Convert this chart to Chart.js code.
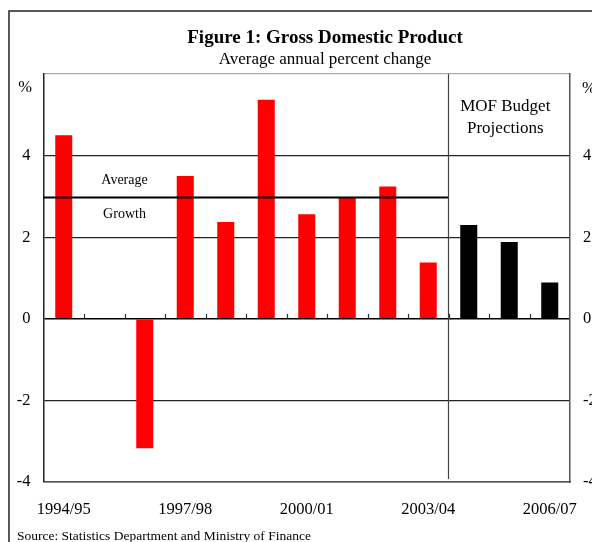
<!DOCTYPE html>
<html>
<head>
<meta charset="utf-8">
<script src="https://cdn.jsdelivr.net/npm/chart.js@4"></script>
<style>
  html, body { margin: 0; padding: 0; background: #fff; }
  #wrap { width: 592px; height: 542px; position: relative; }
</style>
</head>
<body>
<div id="wrap"><canvas id="gdp"></canvas></div>
<script>
const YEARS = ['1994/95', '1995/96', '1996/97', '1997/98', '1998/99', '1999/00', '2000/01',
               '2001/02', '2002/03', '2003/04', '2004/05', '2005/06', '2006/07'];
const GROWTH = [4.5, null, -3.17, 3.5, 2.37, 5.37, 2.56, 2.97, 3.24, 1.38, 2.3, 1.88, 0.89];
const PROJECTION_START = 10;          // first MOF budget projection year
const AVERAGE_GROWTH = 2.97;
const Y_TICKS = [-4, -2, 0, 2, 4, 6];

const SERIF = '"Liberation Serif", "Times New Roman", serif';

const extras = {
    id: 'extras',
    afterDatasetsDraw(chart) {
        const { ctx, chartArea: a, scales: { x, y } } = chart;
        const half = (x.getPixelForValue(1) - x.getPixelForValue(0)) / 2;
        const y0 = y.getPixelForValue(0);
        const divX = x.getPixelForValue(PROJECTION_START) - half;

        ctx.save();
        // category ticks on the zero line
        ctx.strokeStyle = '#333';
        ctx.lineWidth = 1.2;
        for (let i = 1; i < YEARS.length; i++) {
            const bx = Math.round(x.getPixelForValue(i) - half) + 0.5;
            ctx.beginPath();
            ctx.moveTo(bx, y0);
            ctx.lineTo(bx, y0 - 5);
            ctx.stroke();
        }
        // average growth line
        const ay = y.getPixelForValue(AVERAGE_GROWTH);
        ctx.strokeStyle = '#000';
        ctx.lineWidth = 2;
        ctx.beginPath();
        ctx.moveTo(a.left, ay);
        ctx.lineTo(divX, ay);
        ctx.stroke();
        // projections divider
        ctx.strokeStyle = '#444';
        ctx.lineWidth = 1.2;
        ctx.beginPath();
        ctx.moveTo(divX, a.top);
        ctx.lineTo(divX, a.bottom - 3);
        ctx.stroke();

        ctx.fillStyle = '#000';
        ctx.textAlign = 'center';
        ctx.textBaseline = 'alphabetic';
        ctx.font = '14px ' + SERIF;
        ctx.fillText('Average', a.left + 81, ay - 14);
        ctx.fillText('Growth', a.left + 81, ay + 20);

        ctx.font = '17px ' + SERIF;
        const mx = (divX + a.right) / 2 - 4;
        ctx.fillText('MOF Budget', mx, a.top + 37);
        ctx.fillText('Projections', mx, a.top + 59);
        ctx.restore();
    },
    afterDraw(chart) {
        const { ctx, chartArea: a } = chart;
        ctx.save();
        // outer frame (continues past the crop)
        ctx.strokeStyle = '#222';
        ctx.lineWidth = 1.5;
        ctx.beginPath();
        ctx.moveTo(9, 542);
        ctx.lineTo(9, 11);
        ctx.lineTo(592, 11);
        ctx.stroke();

        ctx.fillStyle = '#000';
        ctx.textBaseline = 'alphabetic';
        ctx.textAlign = 'center';
        ctx.font = 'bold 19px ' + SERIF;
        ctx.fillText('Figure 1: Gross Domestic Product', 325, 43);
        ctx.font = '17px ' + SERIF;
        ctx.fillText('Average annual percent change', 325, 64);

        ctx.font = '16.5px ' + SERIF;
        ctx.fillText('%', 25, a.top + 18);
        ctx.textAlign = 'left';
        ctx.fillText('%', a.right + 12, a.top + 19);

        ctx.font = '13.5px ' + SERIF;
        ctx.fillText('Source: Statistics Department and Ministry of Finance', 17, 540);
        ctx.restore();
    },
};

new Chart(document.getElementById('gdp'), {
    type: 'bar',
    data: {
        labels: YEARS,
        datasets: [{
            data: GROWTH,
            backgroundColor: GROWTH.map((v, i) => i >= PROJECTION_START ? '#000' : '#ff0000'),
            borderWidth: 0,
            barPercentage: 0.42,
            categoryPercentage: 1,
        }],
    },
    options: {
        responsive: true,
        maintainAspectRatio: false,
        animation: false,
        layout: { padding: { top: 74, left: 0, right: 0, bottom: 0 } },
        plugins: { legend: { display: false }, tooltip: { enabled: false }, title: { display: false } },
        scales: {
            x: {
                offset: true,
                grid: { display: false },
                border: { display: true, color: '#555', width: 1.5 },
                ticks: {
                    autoSkip: false,
                    maxRotation: 0,
                    padding: 10,
                    color: '#000',
                    font: { family: SERIF, size: 16.5 },
                    callback: (v, i) => i % 3 === 0 ? YEARS[i] : '',
                },
                afterFit: s => { s.height = 60; },
            },
            y: {
                position: 'left',
                min: Y_TICKS[0],
                max: Y_TICKS[Y_TICKS.length - 1],
                afterBuildTicks: s => { s.ticks = Y_TICKS.map(v => ({ value: v })); },
                grid: {
                    drawTicks: false,
                    color: c => c.tick.value === 0 ? '#000' : c.tick.value === 6 ? '#aaa' : '#222',
                    lineWidth: c => c.tick.value === 0 ? 1.6 : 1.2,
                },
                border: { display: true, color: '#222', width: 1.5 },
                ticks: {
                    padding: 13,
                    color: '#000',
                    font: { family: SERIF, size: 16.5 },
                    callback: v => v === 6 ? '' : v,
                },
                afterFit: s => { s.width = 43.5; },
            },
            y2: {
                position: 'right',
                min: Y_TICKS[0],
                max: Y_TICKS[Y_TICKS.length - 1],
                afterBuildTicks: s => { s.ticks = Y_TICKS.map(v => ({ value: v })); },
                grid: { display: false, drawTicks: false },
                border: { display: true, color: '#555', width: 1.5 },
                ticks: {
                    padding: 13,
                    color: '#000',
                    font: { family: SERIF, size: 16.5 },
                    callback: v => v === 6 ? '' : v,
                },
                afterFit: s => { s.width = 22; },
            },
        },
    },
    plugins: [extras],
});
</script>
</body>
</html>
